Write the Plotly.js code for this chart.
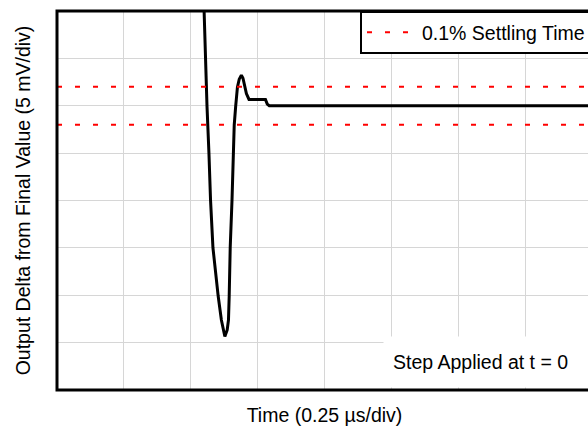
<!DOCTYPE html>
<html>
<head>
<meta charset="utf-8">
<script src="https://cdn.plot.ly/plotly-3.0.1.min.js"></script>
<style>
html, body { margin: 0; padding: 0; overflow: hidden; background: #fff; }
#chart { width: 596px; height: 426px; }
</style>
</head>
<body>
<div id="chart"></div>
<script>
// Time in divisions (0.25 us/div), output delta in divisions (5 mV/div)
var timeDiv = [2.178, 2.198, 2.219, 2.243, 2.272, 2.296, 2.332, 2.380, 2.410, 2.458, 2.485, 2.510,
               2.545, 2.564, 2.575, 2.590, 2.617, 2.632, 2.650, 2.672, 2.698, 2.725, 2.757, 2.781,
               2.807, 2.832, 2.871, 3.117, 3.144, 3.174, 8.0];
var outputDiv = [9.008, 8.017, 7.004, 5.992, 5.000, 4.008, 3.002, 2.321, 1.983, 1.477, 1.266, 1.129,
                 1.266, 1.477, 1.983, 3.002, 4.008, 5.000, 5.591, 5.992, 6.392, 6.561, 6.646, 6.582,
                 6.392, 6.259, 6.133, 6.133, 6.034, 6.000, 6.000];
var settleTime = [0, 8, null, 0, 8];
var settleBand = [6.4, 6.4, null, 5.6, 5.6];
var legendLabel = "0.1% Settling Time";
var xTitle = "Time (0.25 \u00B5s/div)";
var yTitle = "Output Delta from Final Value (5 mV/div)";
var noteText = "Step Applied at t = 0";

var font = "Liberation Sans, Arial, Helvetica, sans-serif";

var traces = [
  {
    x: timeDiv, y: outputDiv, mode: "lines", type: "scatter",
    line: {color: "#000", width: 3},
    showlegend: false, hoverinfo: "skip"
  },
  {
    x: settleTime, y: settleBand, mode: "lines", type: "scatter",
    name: legendLabel,
    line: {color: "#ff0000", width: 2, dash: "5px,13px"},
    connectgaps: false, hoverinfo: "skip"
  }
];

var layout = {
  width: 596, height: 426,
  margin: {l: 57, r: 4, t: 11, b: 36},
  paper_bgcolor: "#fff", plot_bgcolor: "#fff",
  font: {family: font, size: 19.5, color: "#000"},
  xaxis: {
    range: [0, 8], dtick: 1, tick0: 0, showticklabels: false, ticks: "",
    showgrid: true, gridcolor: "#d6d6d6", gridwidth: 1, zeroline: false, showline: false,
    title: {text: xTitle, font: {family: font, size: 19.5, color: "#000"}, standoff: 18},
    automargin: false, fixedrange: true
  },
  yaxis: {
    range: [0, 8], dtick: 1, tick0: 0, showticklabels: false, ticks: "",
    showgrid: true, gridcolor: "#d6d6d6", gridwidth: 1, zeroline: false, showline: false,
    title: {text: yTitle, font: {family: font, size: 19.5, color: "#000"}, standoff: 20},
    automargin: false, fixedrange: true
  },
  showlegend: true,
  legend: {
    x: 1, xanchor: "right", y: 1, yanchor: "top",
    bgcolor: "#fff", bordercolor: "#000", borderwidth: 2,
    itemwidth: 50,
    font: {family: font, size: 19.5, color: "#000"}
  },
  shapes: [
    {type: "rect", xref: "paper", yref: "paper", x0: 0, x1: 1, y0: 0, y1: 1,
     line: {color: "#000", width: 3}, layer: "above"}
  ],
  annotations: [
    {text: noteText, xref: "paper", yref: "paper", x: 0.6093, y: 0.005,
     xanchor: "left", yanchor: "bottom", showarrow: false, align: "left",
     width: 191, height: 32, borderpad: 9, bgcolor: "#fff",
     font: {family: font, size: 19.5, color: "#000"}}
  ]
};

Plotly.newPlot("chart", traces, layout, {staticPlot: true, displayModeBar: false});
</script>
</body>
</html>
